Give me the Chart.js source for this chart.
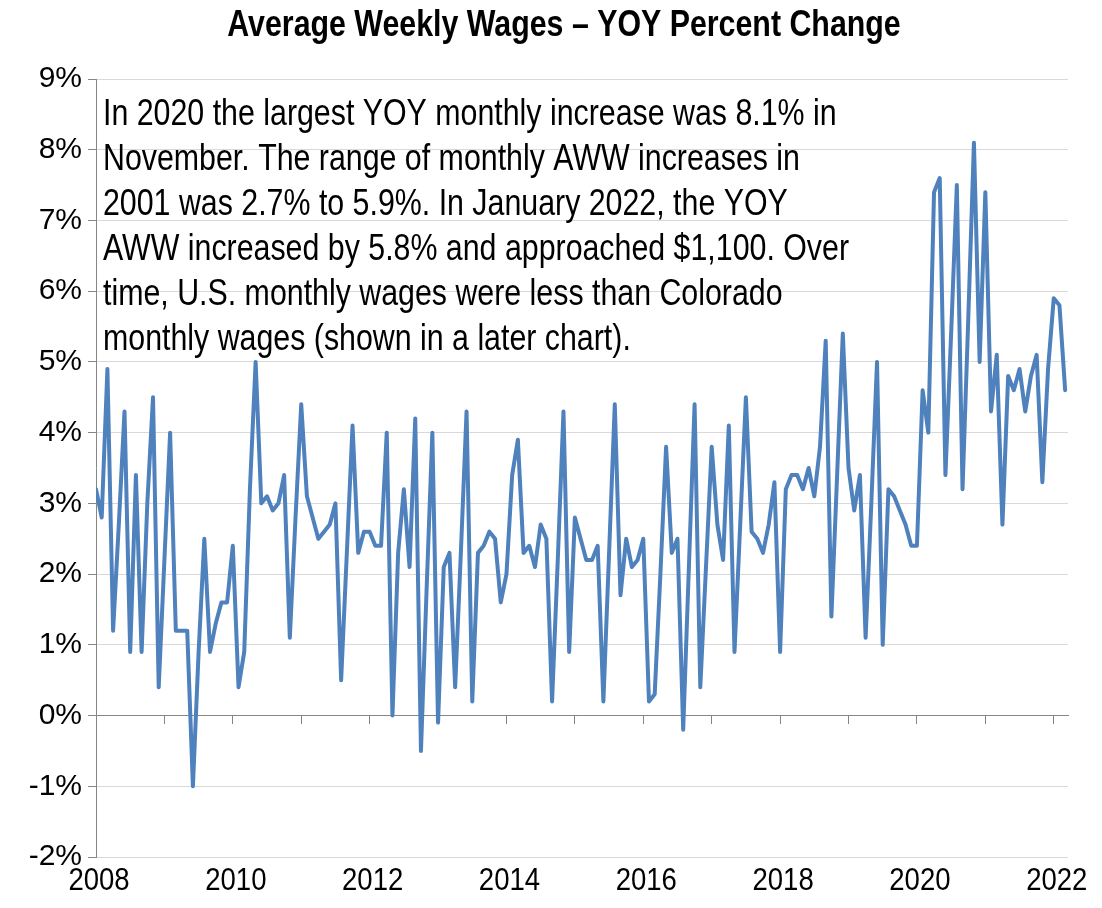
<!DOCTYPE html>
<html>
<head>
<meta charset="utf-8">
<title>Average Weekly Wages – YOY Percent Change</title>
<script src="https://cdn.jsdelivr.net/npm/chart.js@4.4.1/dist/chart.umd.min.js"></script>
<style>
  html, body { margin: 0; padding: 0; background: #fff; }
  #wrap { width: 1102px; height: 908px; position: relative; }
</style>
</head>
<body>
<div id="wrap"><canvas id="wagesChart"></canvas></div>
<script>
// monthly YOY % change in average weekly wages, Jan 2008 onwards
const yoyChange = [
  3.2, 2.8, 4.9, 1.2, 2.7, 4.3, 0.9, 3.4, 0.9, 3.0,
  4.5, 0.4, 2.2, 4.0, 1.2, 1.2, 1.2, -1.0, 0.9, 2.5,
  0.9, 1.3, 1.6, 1.6, 2.4, 0.4, 0.9, 3.2, 5.0, 3.0,
  3.1, 2.9, 3.0, 3.4, 1.1, 2.8, 4.4, 3.1, 2.8, 2.5,
  2.6, 2.7, 3.0, 0.5, 2.3, 4.1, 2.3, 2.6, 2.6, 2.4,
  2.4, 4.0, 0.0, 2.3, 3.2, 2.1, 4.2, -0.5, 1.8, 4.0,
  -0.1, 2.1, 2.3, 0.4, 2.3, 4.3, 0.2, 2.3, 2.4, 2.6,
  2.5, 1.6, 2.0, 3.4, 3.9, 2.3, 2.4, 2.1, 2.7, 2.5,
  0.2, 2.2, 4.3, 0.9, 2.8, 2.5, 2.2, 2.2, 2.4, 0.2,
  2.3, 4.4, 1.7, 2.5, 2.1, 2.2, 2.5, 0.2, 0.3, 2.0,
  3.8, 2.3, 2.5, -0.2, 2.1, 4.4, 0.4, 2.1, 3.8, 2.7,
  2.2, 4.1, 0.9, 2.7, 4.5, 2.6, 2.5, 2.3, 2.7, 3.3,
  0.9, 3.2, 3.4, 3.4, 3.2, 3.5, 3.1, 3.8, 5.3, 1.4,
  3.4, 5.4, 3.5, 2.9, 3.4, 1.1, 3.0, 5.0, 1.0, 3.2,
  3.1, 2.9, 2.7, 2.4, 2.4, 4.6, 4.0, 7.4, 7.6, 3.4,
  5.4, 7.5, 3.2, 5.6, 8.1, 5.0, 7.4, 4.3, 5.1, 2.7,
  4.8, 4.6, 4.9, 4.3, 4.8, 5.1, 3.3, 4.9, 5.9, 5.8,
  4.6
];

// x tick labels, one every 24 months
const yearLabels = ['2008', '2010', '2012', '2014', '2016', '2018', '2020', '2022'];

const chartTitle = 'Average Weekly Wages – YOY Percent Change';

const noteLines = [
  'In 2020 the largest YOY monthly increase was 8.1% in',
  'November. The range of monthly AWW increases in',
  '2001 was 2.7% to 5.9%. In January 2022, the YOY',
  'AWW increased by 5.8% and approached $1,100. Over',
  'time, U.S. monthly wages were less than Colorado',
  'monthly wages (shown in a later chart).'
];

const FONT = "'Liberation Sans', Arial, sans-serif";
const AXIS_GREY = '#868686';
const GRID_GREY = '#d9d9d9';

// the source uses a condensed face; squeeze glyphs around their anchor, by font size
const textSqueeze = { 37: 0.82, 32: 0.86 };

function condenseText(ctx) {
    const fill = ctx.fillText;
    ctx.fillText = function (text, x, y, maxWidth) {
        const m = this.font.match(/([\d.]+)px/);
        const k = m ? (textSqueeze[parseFloat(m[1])] || 1) : 1;
        if (k === 1) {
            return maxWidth === undefined ? fill.call(this, text, x, y) : fill.call(this, text, x, y, maxWidth);
        }
        this.save();
        this.translate(x, y);
        this.scale(k, 1);
        fill.call(this, text, 0, 0);
        this.restore();
    };
}

// title and the text box in the upper left of the plot
const textPlugin = {
    id: 'chartText',
    afterDraw(chart) {
        const ctx = chart.ctx;
        ctx.save();
        ctx.fillStyle = '#000';
        ctx.font = 'bold 37px ' + FONT;
        ctx.textAlign = 'center';
        ctx.textBaseline = 'middle';
        ctx.fillText(chartTitle, 564, 26);

        ctx.font = '37px ' + FONT;
        ctx.textAlign = 'left';
        ctx.textBaseline = 'alphabetic';
        const left = chart.chartArea.left + 7;
        noteLines.forEach((line, i) => {
            ctx.fillText(line, left, 125 + i * 45);
        });
        ctx.restore();
    }
};

function renderChart() {
    const ctx = document.getElementById('wagesChart').getContext('2d');
    condenseText(ctx);
    const lastX = yoyChange.length - 0.5;

    new Chart(ctx, {
        type: 'line',
        data: {
            datasets: [{
                label: 'YOY % change',
                data: yoyChange.map((v, i) => ({ x: i, y: v })),
                borderColor: '#4f81bd',
                borderWidth: 4,
                borderJoinStyle: 'round',
                borderCapStyle: 'round',
                pointRadius: 0,
                tension: 0,
                fill: false
            }]
        },
        plugins: [textPlugin],
        options: {
            responsive: true,
            maintainAspectRatio: false,
            animation: false,
            devicePixelRatio: 1,
            layout: { padding: { left: 0, right: 34, top: 79, bottom: 0 } },
            plugins: {
                legend: { display: false },
                tooltip: { enabled: false },
                title: { display: false }
            },
            scales: {
                x: {
                    type: 'linear',
                    min: 0,
                    max: lastX,
                    grid: { display: false, drawTicks: false },
                    border: { display: false },
                    ticks: {
                        stepSize: 24,
                        includeBounds: false,
                        autoSkip: false,
                        maxRotation: 0,
                        padding: 5,
                        labelOffset: 3,
                        color: '#000',
                        font: { family: FONT, size: 32 },
                        callback: v => (v % 24 === 0 ? yearLabels[v / 24] : '')
                    },
                    afterFit: scale => { scale.height = 51; }
                },
                // axis line with year tick marks sitting on the 0% line
                xZero: {
                    type: 'linear',
                    axis: 'x',
                    position: { y: 0 },
                    min: 0,
                    max: lastX,
                    grid: {
                        drawOnChartArea: false,
                        drawTicks: true,
                        tickLength: 8,
                        tickColor: AXIS_GREY,
                        tickWidth: 1
                    },
                    border: { color: AXIS_GREY, width: 1 },
                    ticks: { display: false, stepSize: 12, includeBounds: false }
                },
                y: {
                    min: -2,
                    max: 9,
                    grid: {
                        color: GRID_GREY,
                        lineWidth: 1,
                        tickLength: 8,
                        tickColor: AXIS_GREY
                    },
                    border: { color: AXIS_GREY, width: 1 },
                    ticks: {
                        stepSize: 1,
                        padding: 6,
                        color: '#000',
                        font: { family: FONT, size: 30 },
                        callback: v => v + '%'
                    },
                    afterFit: scale => { scale.width = 96; }
                }
            }
        }
    });
}

renderChart();
</script>
</body>
</html>
